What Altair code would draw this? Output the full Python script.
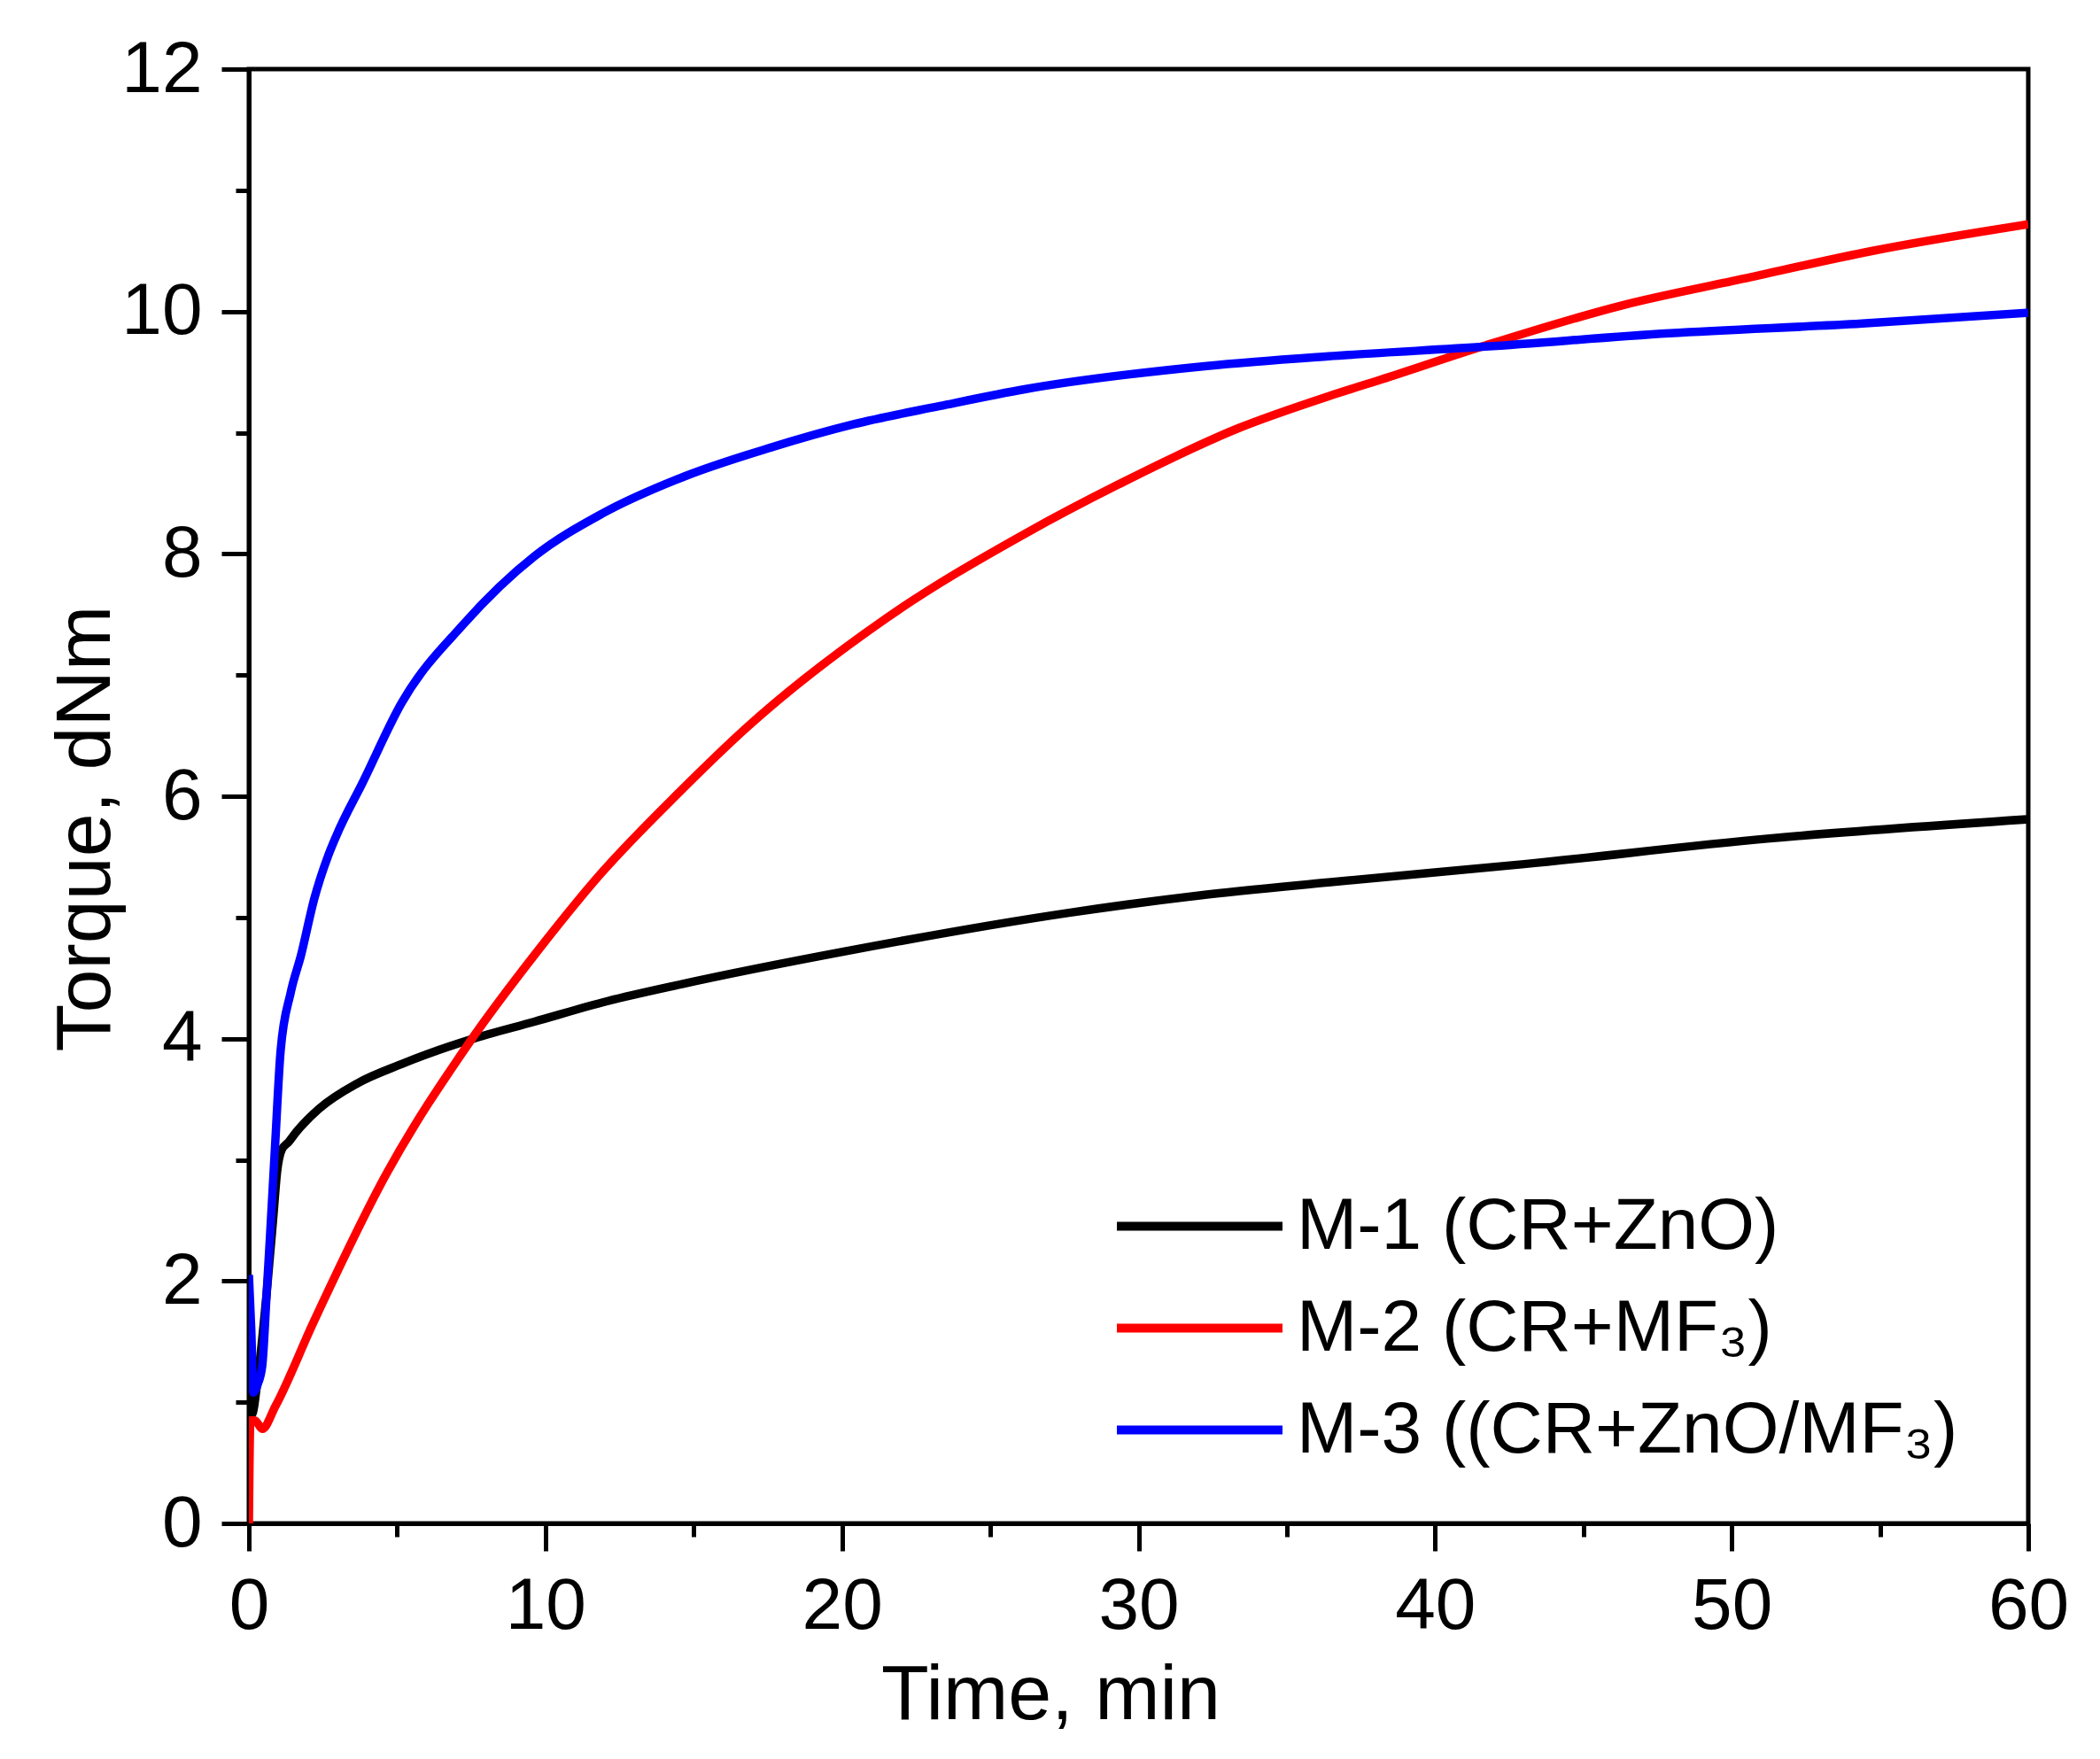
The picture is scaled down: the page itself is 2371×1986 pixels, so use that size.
import altair as alt
import pandas as pd

FONT = "Liberation Sans"

series_names = ["M-1 (CR+ZnO)", "M-2 (CR+MF\u2083)", "M-3 ((CR+ZnO/MF\u2083)"]
series_colors = ["#000000", "#ff0000", "#0000ff"]

m1_time = [0, 0.1, 0.3, 0.6, 0.83, 0.95, 1.1, 1.35, 1.6, 2.36, 3.65, 5.15, 7.44, 9.63,
           12.1, 14.6, 20.1, 27.7, 32.0, 36.4, 43.0, 51.2, 60]
m1_torque = [1.05, 0.9, 1.2, 1.9, 2.55, 2.9, 3.08, 3.15, 3.23, 3.42, 3.63, 3.79, 3.99, 4.14,
             4.31, 4.45, 4.72, 5.04, 5.18, 5.29, 5.44, 5.65, 5.81]

m2_time = [0, 0.05, 0.2, 0.45, 0.9, 2.16, 4.65, 7.44, 9.63, 11.9, 14.5, 16.8, 21.5, 26.2,
           29.3, 33.4, 36.4, 38.2, 41.7, 46.3, 50.4, 54.75, 60]
m2_torque = [0, 0.85, 0.85, 0.78, 0.97, 1.65, 2.89, 3.97, 4.69, 5.37, 6.03, 6.57, 7.47, 8.17,
             8.57, 9.04, 9.30, 9.44, 9.72, 10.05, 10.27, 10.5, 10.72]

m3_time = [0, 0.08, 0.15, 0.3, 0.45, 0.6, 0.72, 0.88, 1.07, 1.41, 1.76, 2.2, 2.66, 2.96,
           3.85, 5.15, 7.24, 9.63, 11.9, 14.7, 17.5, 20.4, 23.3, 26.2, 32.3, 36.4, 41.7,
           47.9, 54.4, 60]
m3_torque = [2.05, 1.6, 1.08, 1.15, 1.3, 1.9, 2.4, 3.1, 3.9, 4.38, 4.69, 5.15, 5.5, 5.68,
             6.12, 6.77, 7.42, 7.98, 8.33, 8.64, 8.87, 9.07, 9.22, 9.36, 9.55, 9.63, 9.71,
             9.82, 9.9, 9.99]

x_tick_values = [0, 5, 10, 15, 20, 25, 30, 35, 40, 45, 50, 55, 60]
y_tick_values = [0, 1, 2, 3, 4, 5, 6, 7, 8, 9, 10, 11, 12]

rows = []
for name, ts, vs in zip(series_names, [m1_time, m2_time, m3_time], [m1_torque, m2_torque, m3_torque]):
    for t, v in zip(ts, vs):
        rows.append({"series": name, "time": t, "torque": v})
df = pd.DataFrame(rows)

x_axis = alt.Axis(
    values=x_tick_values,
    labelExpr="datum.value % 10 === 0 ? datum.label : ''",
    tickSize={"condition": {"test": "datum.value % 10 === 0", "value": 31}, "value": 15},
    tickWidth=5, tickColor="black", domainWidth=5, domainColor="black",
    labelFont=FONT, labelFontSize=82, labelColor="black", labelPadding=22,
    labelFlush=False, labelOverlap=False, grid=False,
    title="Time, min", titleFont=FONT, titleFontSize=88, titleFontWeight="normal",
    titleColor="black", titleX=905, titleY=220, titleAlign="center",
    titleBaseline="alphabetic", titleAnchor="start",
)

y_axis = alt.Axis(
    values=y_tick_values,
    labelExpr="datum.value % 2 === 0 ? datum.label : ''",
    tickSize={"condition": {"test": "datum.value % 2 === 0", "value": 31}, "value": 15},
    tickWidth=5, tickColor="black", domainWidth=5, domainColor="black",
    labelFont=FONT, labelFontSize=82, labelColor="black", labelPadding=22,
    labelFlush=False, labelOverlap=False, grid=False,
    title="Torque, dNm", titleFont=FONT, titleFontSize=88, titleFontWeight="normal",
    titleColor="black", titleX=-158, titleY=857, titleAngle=270, titleAlign="center",
    titleBaseline="alphabetic", titleAnchor="start",
)

legend = alt.Legend(
    title=None, orient="none", legendX=1031, legendY=1264, padding=0,
    symbolType="M-2.5,0H2.5", symbolSize=5595, symbolStrokeWidth=10, symbolOpacity=1,
    labelFont=FONT, labelFontSize=82, labelColor="black", labelOffset=67,
    labelLimit=2000, rowPadding=31,
)

chart = alt.Chart(df).mark_line(strokeWidth=9.5, strokeJoin="round", interpolate="monotone",
                                clip=True).encode(
    x=alt.X("time:Q", scale=alt.Scale(domain=[0, 60], nice=False, zero=False), axis=x_axis),
    y=alt.Y("torque:Q", scale=alt.Scale(domain=[0, 12], nice=False), axis=y_axis),
    color=alt.Color("series:N", scale=alt.Scale(domain=series_names, range=series_colors),
                    legend=legend),
).properties(
    width=2009, height=1642,
    autosize=alt.AutoSizeParams(type="none"),
    padding={"left": 273, "top": 70, "right": 60, "bottom": 250},
    background="white",
).configure_view(stroke="black", strokeWidth=5)

chart.save("out.html", embed_options={"renderer": "svg", "actions": False})
